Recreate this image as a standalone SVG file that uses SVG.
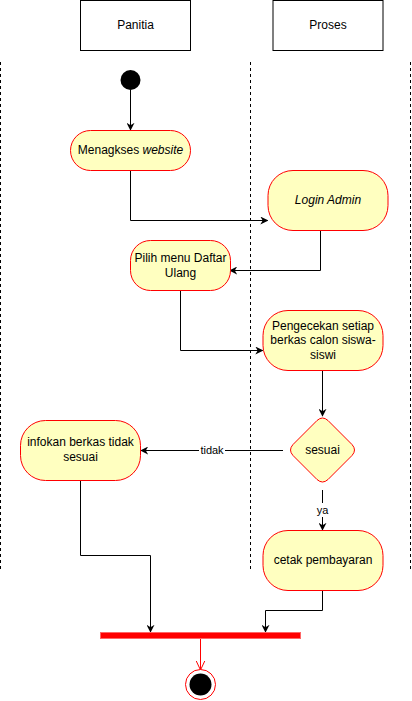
<svg xmlns="http://www.w3.org/2000/svg" width="412" height="701" viewBox="0 0 412 701">
<style>
text{font-family:"Liberation Sans",Arial,sans-serif;font-size:12px;fill:#000;text-anchor:middle;dominant-baseline:central}
.act{fill:#ffffc0;stroke:#ff0000;stroke-width:1}
.hdr{fill:#fff;stroke:#000;stroke-width:1}
.lane{stroke:#000;stroke-width:1;stroke-dasharray:3 3;fill:none}
.c{fill:none;stroke:#000;stroke-width:1}
.it{font-style:italic}
</style>
<defs>
<marker id="ar" viewBox="0 0 10 10" refX="9" refY="5" markerWidth="8" markerHeight="8" markerUnits="userSpaceOnUse" orient="auto">
<path d="M0,0 L10,5 L0,10 L3,5 Z" fill="#000"/>
</marker>
<marker id="ao" viewBox="0 0 10 10" refX="9.5" refY="5" markerWidth="10" markerHeight="10" markerUnits="userSpaceOnUse" orient="auto">
<path d="M0,0.5 L9.5,5 L0,9.5" fill="none" stroke="#ff0000" stroke-width="1"/>
</marker>
</defs>
<rect width="412" height="701" fill="#fff"/>
<g id="lanes">
<line class="lane" x1="0.5" y1="62" x2="0.5" y2="570"/>
<line class="lane" x1="250.5" y1="62" x2="250.5" y2="570"/>
<line class="lane" x1="410.5" y1="62" x2="410.5" y2="570"/>
</g>
<g id="hdr-panitia"><rect class="hdr" x="80.5" y="0.5" width="110" height="50"/><text x="135.5" y="25">Panitia</text></g>
<g id="hdr-proses"><rect class="hdr" x="273" y="0.5" width="110" height="50"/><text x="328" y="25">Proses</text></g>
<g id="connectors">
<path class="c" d="M130.5,90 V130" marker-end="url(#ar)"/>
<path class="c" d="M130.5,170 V220.5 H267.5" marker-end="url(#ar)"/>
<path class="c" d="M320.5,230 V270.5 H230" marker-end="url(#ar)"/>
<path class="c" d="M180.5,290 V350.5 H262.5" marker-end="url(#ar)"/>
<path class="c" d="M322.5,370 V416" marker-end="url(#ar)"/>
<path class="c" d="M283,450.5 H141" marker-end="url(#ar)"/>
<rect x="199" y="443" width="26" height="14" fill="#fff"/>
<text x="212" y="450" font-size="11px" style="font-size:11px">tidak</text>
<path class="c" d="M322.5,490 V530" marker-end="url(#ar)"/>
<rect x="315" y="503" width="15" height="14" fill="#fff"/>
<text x="322.5" y="510" style="font-size:11px">ya</text>
<path class="c" d="M80.5,480 V555.5 H150.5 V632" marker-end="url(#ar)"/>
<path class="c" d="M322.5,590 V610.5 H265.5 V632" marker-end="url(#ar)"/>
<path d="M200.5,639 V670" fill="none" stroke="#ff0000" stroke-width="1" marker-end="url(#ao)"/>
</g>
<g id="start"><circle cx="130.5" cy="80" r="10" fill="#000"/></g>
<g id="menagkses"><rect class="act" x="70.5" y="130.5" width="120" height="40" rx="20"/><text x="130.5" y="150">Menagkses <tspan class="it">website</tspan></text></g>
<g id="login"><rect class="act" x="268" y="170.5" width="120" height="60" rx="25"/><text class="it" x="328" y="200">Login Admin</text></g>
<g id="pilih"><rect class="act" x="130.5" y="240.5" width="100" height="50" rx="20"/><text x="180.5" y="258">Pilih menu Daftar</text><text x="180.5" y="273">Ulang</text></g>
<g id="pengecekan"><rect class="act" x="263" y="310.5" width="120" height="60" rx="25"/><text x="323" y="325.5">Pengecekan setiap</text><text x="323" y="340">berkas calon siswa-</text><text x="323" y="355">siswi</text></g>
<g id="sesuai"><path class="act" d="M317,420.5 Q322.5,415.5 328,420.5 L352,444.5 Q357,450 352,455.5 L328,479.5 Q322.5,484.5 317,479.5 L293,455.5 Q288,450 293,444.5 Z"/><text x="322.5" y="450">sesuai</text></g>
<g id="infokan"><rect class="act" x="20.5" y="420.5" width="120" height="60" rx="25"/><text x="80.5" y="442">infokan berkas tidak</text><text x="80.5" y="457">sesuai</text></g>
<g id="cetak"><rect class="act" x="263" y="530.5" width="120" height="60" rx="25"/><text x="323" y="560">cetak pembayaran</text></g>
<g id="join"><rect x="100.5" y="632.5" width="200" height="6" fill="#ff0000" stroke="#ff6666" stroke-width="1"/></g>
<g id="end"><circle cx="200.5" cy="684.5" r="15" fill="#fff" stroke="#ff0000" stroke-width="1"/><circle cx="200.5" cy="684.5" r="11" fill="#000"/></g>
</svg>
